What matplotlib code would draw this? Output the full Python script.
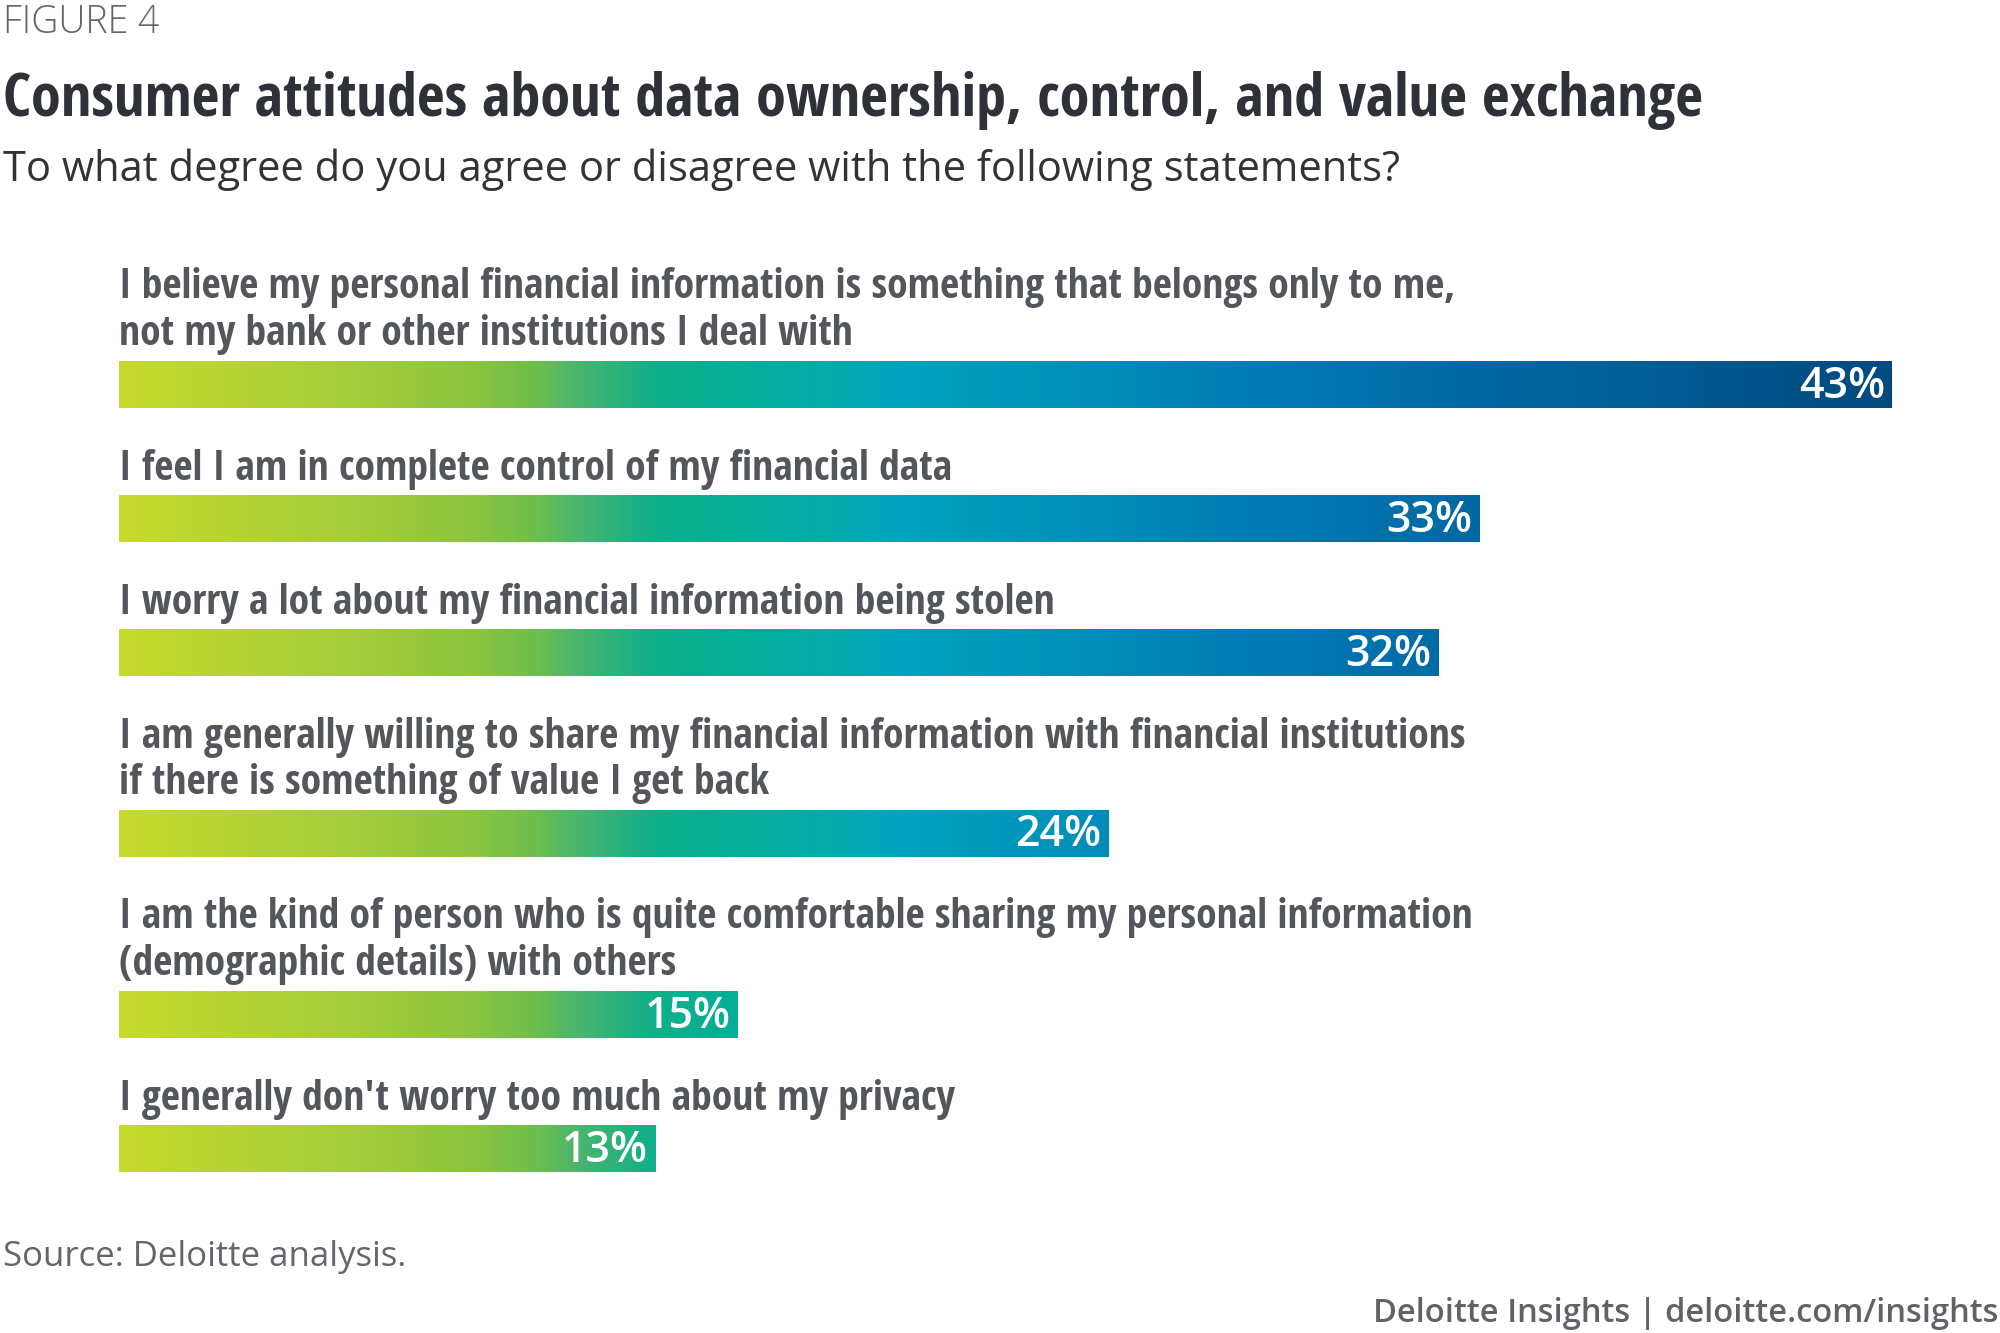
import numpy as np
import matplotlib.pyplot as plt
from matplotlib.colors import LinearSegmentedColormap

# ===============================
# data
# ===============================
statements = [
    "I believe my personal financial information is something that belongs only to me,\nnot my bank or other institutions I deal with",
    "I feel I am in complete control of my financial data",
    "I worry a lot about my financial information being stolen",
    "I am generally willing to share my financial information with financial institutions\nif there is something of value I get back",
    "I am the kind of person who is quite comfortable sharing my personal information\n(demographic details) with others",
    "I generally don't worry too much about my privacy",
]
values = [43, 33, 32, 24, 15, 13]

# ===============================
# style
# ===============================
W, H = 2000, 1333
LABEL_GRAY = "#53565A"
TITLE_COLOR = "#2F3138"
COND = ["Open Sans Condensed", "DejaVu Sans"]
OPEN = ["Open Sans", "DejaVu Sans"]

# gradient is fixed along x (same colour at same position on every bar)
grad = LinearSegmentedColormap.from_list("deloitte", [
    (0.000, "#C6DA2E"),
    (0.130, "#A6CD3B"),
    (0.200, "#8AC43F"),
    (0.235, "#6CBE4E"),
    (0.255, "#4DB66A"),
    (0.300, "#10AF8A"),
    (0.340, "#05AF96"),
    (0.400, "#02AAAA"),
    (0.440, "#00A3BF"),
    (0.510, "#0096BA"),
    (0.600, "#0083B8"),
    (0.700, "#0072AE"),
    (0.770, "#0068A3"),
    (0.860, "#005D96"),
    (1.000, "#004A7E"),
])

fig = plt.figure(figsize=(20, 13.33), dpi=100)
fig.patch.set_facecolor("white")

x0_px, x1_px = 119, 1892
ax = fig.add_axes([x0_px / W, 0, (x1_px - x0_px) / W, 1])
ax.axis("off")

# ===============================
# bars + labels
# ===============================
line_h = 47
bar_h = 47
y = 285
vmax = max(values)
for text, v in zip(statements, values):
    n_lines = text.count("\n") + 1
    ax.text(0, y - 0.5 * line_h + 6, text, ha="left", va="top", fontsize=30,
            fontweight="bold", family=COND, color=LABEL_GRAY, linespacing=1.17)
    yb = y + (n_lines - 1) * line_h + 53
    xs = np.linspace(0, v / vmax, 400)[None, :]
    ax.imshow(xs, cmap=grad, vmin=0, vmax=1, aspect="auto", interpolation="bilinear",
              extent=(0, v, yb + bar_h / 2, yb - bar_h / 2), zorder=2)
    ax.text(v - 0.17, yb + 1, f"{v}%", ha="right", va="center", fontsize=31,
            fontweight="semibold", family=OPEN, color="white", zorder=3)
    y = yb + 81
ax.set_ylim(H, 0)
ax.set_xlim(0, vmax)

# ===============================
# titles / footer
# ===============================
fig.text(3 / W, 1 - 23 / H, "FIGURE 4", ha="left", va="center", fontsize=27,
         family=OPEN, fontweight="light", color="#63666A")
fig.text(3 / W, 1 - 101 / H, "Consumer attitudes about data ownership, control, and value exchange",
         ha="left", va="center", fontsize=43.5, fontweight="bold", family=COND, color=TITLE_COLOR)
fig.text(3 / W, 1 - 170 / H, "To what degree do you agree or disagree with the following statements?",
         ha="left", va="center", fontsize=30, family=OPEN, color="#333333")
fig.text(3 / W, 1 - 1257 / H, "Source: Deloitte analysis.", ha="left", va="center",
         fontsize=25, family=OPEN, color="#63666A")
fig.text(1 - 2 / W, 1 - 1313 / H, "Deloitte Insights | deloitte.com/insights", ha="right",
         va="center", fontsize=23.5, fontweight="semibold", family=OPEN, color="#5F6369")

fig.savefig("out.png", dpi=100, facecolor="white")
